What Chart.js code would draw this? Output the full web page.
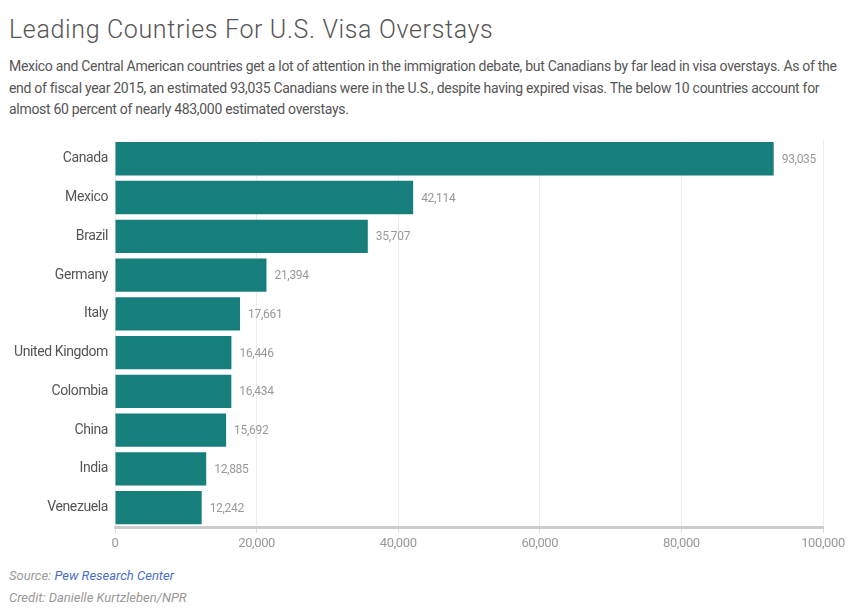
<!DOCTYPE html>
<html>
<head>
<meta charset="utf-8">
<script src="https://cdn.jsdelivr.net/npm/chart.js@4"></script>
<style>
  html, body { margin: 0; padding: 0; background: #fff; }
  body { width: 860px; height: 613px; position: relative; overflow: hidden; font-family: Roboto, "Liberation Sans", Arial, sans-serif; }
  #title { position: absolute; left: 9px; top: 15px; font-family: Roboto, "Liberation Sans", sans-serif; font-weight: 300; font-size: 25px; color: #555; letter-spacing: 0.65px; }
  #sub { position: absolute; left: 9px; top: 56px; width: 830px; font-size: 14px; line-height: 21.5px; color: #555; letter-spacing: -0.3px; }
  #chartwrap { position: absolute; left: 0; top: 124px; width: 860px; height: 440px; }
  .foot { position: absolute; left: 9px; font-size: 13px; font-style: italic; color: #999; }
  .foot a { color: #4a6fc9; text-decoration: none; }
</style>
</head>
<body>
<div id="title">Leading Countries For U.S. Visa Overstays</div>
<div id="sub">Mexico and Central American countries get a lot of attention in the immigration debate, but Canadians by far lead in visa overstays. As of the end of fiscal year 2015, an estimated 93,035 Canadians were in the U.S., despite having expired visas. The below 10 countries account for almost 60 percent of nearly 483,000 estimated overstays.</div>
<div id="chartwrap"><canvas id="c"></canvas></div>
<div class="foot" style="top:568px">Source: <a href="#">Pew Research Center</a></div>
<div class="foot" style="top:590px">Credit: Danielle Kurtzleben/NPR</div>
<script>
const countries = ["Canada", "Mexico", "Brazil", "Germany", "Italy", "United Kingdom", "Colombia", "China", "India", "Venezuela"];
const overstays = [93035, 42114, 35707, 21394, 17661, 16446, 16434, 15692, 12885, 12242];
const xTicks = [0, 20000, 40000, 60000, 80000, 100000];

const tightText = {
  id: 'tightText',
  beforeDraw(chart) { chart.ctx.letterSpacing = '-0.4px'; }
};

const valueLabels = {
  id: 'valueLabels',
  afterDatasetsDraw(chart) {
    const ctx = chart.ctx;
    const meta = chart.getDatasetMeta(0);
    ctx.save();
    ctx.letterSpacing = '-0.3px';
    ctx.font = '12px Roboto, "Liberation Sans", Arial, sans-serif';
    ctx.fillStyle = '#999';
    ctx.textAlign = 'left';
    ctx.textBaseline = 'middle';
    meta.data.forEach((bar, i) => {
      ctx.fillText(overstays[i].toLocaleString('en-US'), bar.x + 8, bar.y + 1);
    });
    ctx.restore();
  }
};

new Chart(document.getElementById('c'), {
  type: 'bar',
  data: {
    labels: countries,
    datasets: [{
      data: overstays,
      backgroundColor: '#177f7b',
      borderWidth: 0,
      barPercentage: 0.86,
      categoryPercentage: 1.0
    }]
  },
  options: {
    indexAxis: 'y',
    responsive: true,
    maintainAspectRatio: false,
    animation: false,
    layout: { padding: { top: 7, right: 37, left: 0, bottom: 0 } },
    plugins: { legend: { display: false }, tooltip: { enabled: false } },
    scales: {
      x: {
        min: 0, max: 100000,
        afterBuildTicks(s) { s.ticks = xTicks.map(v => ({ value: v })); },
        afterFit(s) { s.height = 37; },
        grid: { color: '#ebebeb', lineWidth: 1, drawTicks: true, tickLength: 6, tickColor: '#ddd' },
        border: { display: true, color: '#cccccc', width: 3 },
        ticks: {
          color: '#999',
          font: { family: 'Roboto, "Liberation Sans", Arial, sans-serif', size: 13 },
          padding: 3,
          callback: v => v.toLocaleString('en-US')
        }
      },
      y: {
        afterFit(s) { s.width = 115; },
        grid: { display: false, drawTicks: false },
        border: { display: false },
        ticks: {
          color: '#555',
          font: { family: 'Roboto, "Liberation Sans", Arial, sans-serif', size: 14 },
          padding: 7
        }
      }
    }
  },
  plugins: [tightText, valueLabels]
});
</script>
</body>
</html>
